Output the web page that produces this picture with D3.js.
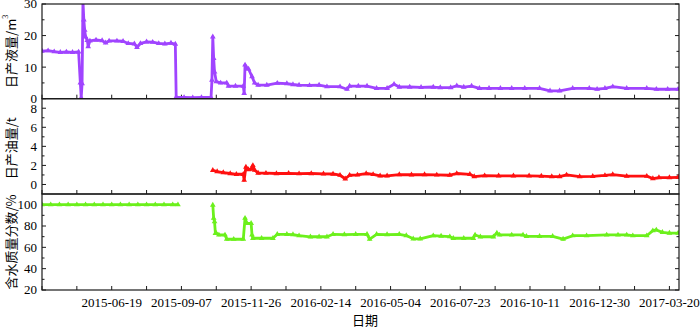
<!DOCTYPE html>
<html>
<head>
<meta charset="utf-8">
<script src="https://cdn.jsdelivr.net/npm/d3@7"></script>
<style>
	body { margin: 0; background: #fff; }
	.axis-text { font-family: "Liberation Serif", "Times New Roman", serif; font-size: 13px; fill: #000; }
	.cjk { font-family: "Noto Sans CJK SC", sans-serif; font-size: 13px; fill: #000; }
	.frame { fill: none; stroke: #1a1a1a; stroke-width: 1.2; }
	.tick { stroke: #1a1a1a; stroke-width: 1; }
</style>
</head>
<body>
<div id="graphic"></div>
<script>
// Globals
var WIDTH = 700;
var HEIGHT = 327;

// Dates on x ticks (every 40 days, labelled every 80)
var X_START = '2015-03-31';
var X_END = '2017-03-31';
var X_TICK_LABELS = ['2015-06-19', '2015-09-07', '2015-11-26', '2016-02-14', '2016-05-04',
	'2016-07-23', '2016-10-11', '2016-12-30', '2017-03-20'];

// Daily liquid production, m3
var LIQUID = [
	['2015-03-31', 15.1], ['2015-04-07', 15.2], ['2015-04-14', 14.9], ['2015-04-21', 14.7],
	['2015-04-28', 14.8], ['2015-05-05', 14.7], ['2015-05-12', 14.8], ['2015-05-14', 5.0],
	['2015-05-15', 0.3], ['2015-05-16', 4.8], ['2015-05-17', 31], ['2015-05-18', 25.0],
	['2015-05-19', 21.7], ['2015-05-20', 19.6], ['2015-05-22', 18.5], ['2015-05-23', 16.5],
	['2015-05-25', 18.3], ['2015-06-01', 18.6], ['2015-06-08', 18.4], ['2015-06-12', 17.7],
	['2015-06-16', 18.3], ['2015-06-25', 18.3], ['2015-07-02', 18.2], ['2015-07-08', 17.5],
	['2015-07-15', 17.4], ['2015-07-18', 16.3], ['2015-07-22', 17.5], ['2015-07-29', 18.0],
	['2015-08-05', 17.9], ['2015-08-12', 17.5], ['2015-08-19', 17.4], ['2015-08-26', 17.6],
	['2015-08-31', 17.3], ['2015-09-01', 0.5], ['2015-09-10', 0.4], ['2015-09-20', 0.3],
	['2015-09-30', 0.4], ['2015-10-11', 0.4], ['2015-10-12', 5.9], ['2015-10-13', 19.6],
	['2015-10-14', 12.8], ['2015-10-15', 8.5], ['2015-10-17', 5.4], ['2015-10-22', 5.0],
	['2015-10-29', 5.0], ['2015-10-31', 4.0], ['2015-11-08', 4.0], ['2015-11-17', 4.0],
	['2015-11-18', 1.7], ['2015-11-19', 10.7], ['2015-11-21', 9.6], ['2015-11-23', 9.4],
	['2015-11-27', 7.0], ['2015-11-30', 5.0], ['2015-12-04', 4.3], ['2015-12-14', 4.3],
	['2015-12-26', 4.9], ['2016-01-06', 4.8], ['2016-01-13', 4.5], ['2016-01-20', 4.3],
	['2016-02-01', 4.2], ['2016-02-12', 4.3], ['2016-02-21', 3.8], ['2016-03-07', 3.8],
	['2016-03-15', 3.0], ['2016-03-18', 4.0], ['2016-03-28', 4.0], ['2016-04-07', 4.0],
	['2016-04-18', 3.3], ['2016-04-30', 3.3], ['2016-05-08', 4.6], ['2016-05-14', 3.7],
	['2016-05-26', 3.7], ['2016-06-08', 3.6], ['2016-06-22', 3.7], ['2016-06-30', 3.5],
	['2016-07-12', 3.5], ['2016-07-19', 4.1], ['2016-07-27', 3.7], ['2016-08-05', 4.0],
	['2016-08-14', 3.3], ['2016-08-25', 3.3], ['2016-09-07', 3.3], ['2016-09-20', 3.3],
	['2016-10-05', 3.3], ['2016-10-22', 3.3], ['2016-11-03', 2.5], ['2016-11-14', 2.5],
	['2016-11-29', 3.3], ['2016-12-18', 3.3], ['2016-12-27', 3.0], ['2017-01-05', 3.3],
	['2017-01-14', 3.8], ['2017-01-30', 3.3], ['2017-02-22', 3.3], ['2017-03-05', 3.0],
	['2017-03-18', 3.0], ['2017-03-30', 3.0]
];

// Daily oil production, t
var OIL = [
	['2015-10-13', 1.49], ['2015-10-18', 1.35], ['2015-10-25', 1.25], ['2015-11-02', 1.15],
	['2015-11-09', 1.07], ['2015-11-17', 1.07], ['2015-11-18', 0.45], ['2015-11-20', 1.83],
	['2015-11-23', 1.56], ['2015-11-26', 1.6], ['2015-11-28', 2.0], ['2015-11-30', 1.5],
	['2015-12-04', 1.2], ['2015-12-13', 1.18], ['2015-12-25', 1.15], ['2016-01-08', 1.17],
	['2016-01-20', 1.13], ['2016-02-03', 1.15], ['2016-02-17', 1.12], ['2016-02-28', 1.1],
	['2016-03-07', 0.97], ['2016-03-13', 0.6], ['2016-03-18', 0.97], ['2016-03-27', 1.0],
	['2016-04-06', 1.15], ['2016-04-14', 1.05], ['2016-04-22', 0.9], ['2016-04-30', 0.9],
	['2016-05-14', 1.04], ['2016-05-28', 1.02], ['2016-06-12', 1.04], ['2016-06-26', 1.0],
	['2016-07-11', 0.97], ['2016-07-19', 1.15], ['2016-08-03', 1.07], ['2016-08-08', 0.83],
	['2016-08-20', 0.92], ['2016-09-05', 0.9], ['2016-09-22', 0.9], ['2016-10-10', 0.9],
	['2016-10-24', 0.88], ['2016-11-05', 0.83], ['2016-11-14', 0.83], ['2016-11-22', 1.0],
	['2016-12-07', 0.83], ['2016-12-22', 0.85], ['2017-01-05', 0.95], ['2017-01-14', 1.04],
	['2017-01-30', 0.87], ['2017-02-22', 0.87], ['2017-03-01', 0.62], ['2017-03-08', 0.72],
	['2017-03-20', 0.72], ['2017-03-30', 0.75]
];

// Water cut, %  (null = no record)
var WATER = [
	['2015-03-31', 100], ['2015-04-10', 100], ['2015-04-20', 100], ['2015-04-30', 100],
	['2015-05-10', 100], ['2015-05-20', 100], ['2015-05-30', 100], ['2015-06-09', 100],
	['2015-06-19', 100], ['2015-06-29', 100], ['2015-07-09', 100], ['2015-07-19', 100],
	['2015-07-29', 100], ['2015-08-08', 100], ['2015-08-18', 100], ['2015-08-28', 100],
	['2015-09-03', 100], ['2015-09-04', null],
	['2015-10-13', 99.7], ['2015-10-14', 87.3], ['2015-10-15', 84], ['2015-10-16', 73.2],
	['2015-10-17', 73.2], ['2015-10-20', 71.6], ['2015-10-27', 71.6], ['2015-10-29', 67.6],
	['2015-11-06', 67.6], ['2015-11-17', 67.6], ['2015-11-19', 87.3], ['2015-11-21', 82.5],
	['2015-11-26', 82.5], ['2015-11-27', 71.6], ['2015-11-28', 68.5], ['2015-12-08', 68.5],
	['2015-12-21', 68.5], ['2015-12-26', 72.2], ['2016-01-06', 72.2], ['2016-01-13', 72.0],
	['2016-01-20', 70.9], ['2016-02-02', 69.9], ['2016-02-12', 69.9], ['2016-02-21', 69.9],
	['2016-02-28', 72.2], ['2016-03-12', 72.0], ['2016-03-25', 72.2], ['2016-04-07', 72.2],
	['2016-04-10', 67.6], ['2016-04-18', 72.2], ['2016-04-30', 72.0], ['2016-05-14', 72.2],
	['2016-05-22', 71.0], ['2016-05-30', 68.0], ['2016-06-07', 68.0], ['2016-06-22', 70.9],
	['2016-07-01', 70.5], ['2016-07-11', 70.0], ['2016-07-15', 68.5], ['2016-07-27', 68.5],
	['2016-08-07', 68.5], ['2016-08-09', 71.6], ['2016-08-15', 69.9], ['2016-08-30', 69.9],
	['2016-09-03', 73.4], ['2016-09-06', 71.6], ['2016-09-20', 71.6], ['2016-10-03', 71.6],
	['2016-10-07', 70.3], ['2016-10-22', 70.3], ['2016-11-06', 70.3], ['2016-11-18', 67.7],
	['2016-11-29', 70.9], ['2016-12-15', 70.9], ['2017-01-07', 71.6], ['2017-01-20', 71.6],
	['2017-01-30', 71.6], ['2017-02-06', 70.9], ['2017-02-22', 70.9], ['2017-03-01', 75.6],
	['2017-03-05', 76.3], ['2017-03-12', 74.0], ['2017-03-20', 73.4], ['2017-03-30', 73.4]
];

// Panels: y ticks and titles
var PANELS = [
	{ id: 'liquid', data: LIQUID, color: '#a044ff', top: 4, bottom: 98.7, domain: [0, 30],
		ticks: [0, 10, 20, 30], minor: [5, 15, 25], title: ['日产液量/m', '3'] },
	{ id: 'oil', data: OIL, color: '#ff1010', top: 98.7, bottom: 194, domain: [-1, 9],
		ticks: [0, 2, 4, 6, 8], minor: [1, 3, 5, 7], title: ['日产油量/t'] },
	{ id: 'water', data: WATER, color: '#6cf01c', top: 194, bottom: 290, domain: [20, 110],
		ticks: [20, 40, 60, 80, 100], minor: [30, 50, 70, 90], title: ['含水质量分数/%'] }
];

var parseDate = d3.timeParse('%Y-%m-%d');

function render() {
	var margins = { left: 42, right: 21 };

	var svg = d3.select('#graphic').append('svg')
		.attr('width', WIDTH)
		.attr('height', HEIGHT);

	var xScale = d3.scaleTime()
		.domain([parseDate(X_START), parseDate(X_END)])
		.range([margins.left, WIDTH - margins.right]);

	// every 40 days from the left edge
	var xTicks = d3.timeDay.every(1).range(parseDate(X_START), parseDate(X_END))
		.filter(function(d, i) { return i % 40 === 0; });

	var defs = svg.append('defs');
	var tri = d3.symbol().type(d3.symbolTriangle).size(14);

	PANELS.forEach(function(p) {
		var yScale = d3.scaleLinear()
			.domain(p.domain)
			.range([p.bottom, p.top]);

		var g = svg.append('g').attr('class', 'panel ' + p.id);

		defs.append('clipPath')
			.attr('id', 'clip-' + p.id)
			.append('rect')
			.attr('x', xScale.range()[0])
			.attr('y', p.top)
			.attr('width', xScale.range()[1] - xScale.range()[0])
			.attr('height', p.bottom - p.top);

		// x ticks pointing in
		g.selectAll('.xtick')
			.data(xTicks)
			.enter().append('line')
			.attr('class', 'tick')
			.attr('x1', function(d) { return xScale(d); })
			.attr('x2', function(d) { return xScale(d); })
			.attr('y1', p.bottom)
			.attr('y2', p.bottom - 4);

		// y ticks on both sides
		var yt = p.ticks.map(function(v) { return { v: v, len: 4 }; })
			.concat(p.minor.map(function(v) { return { v: v, len: 2.5 }; }));
		[xScale.range()[0], xScale.range()[1]].forEach(function(x0, side) {
			g.selectAll('.ytick' + side)
				.data(yt)
				.enter().append('line')
				.attr('class', 'tick')
				.attr('x1', x0)
				.attr('x2', function(d) { return side ? x0 - d.len : x0 + d.len; })
				.attr('y1', function(d) { return yScale(d.v); })
				.attr('y2', function(d) { return yScale(d.v); });
		});

		g.selectAll('.ylabel')
			.data(p.ticks)
			.enter().append('text')
			.attr('class', 'axis-text')
			.attr('x', xScale.range()[0] - 5)
			.attr('y', function(d) { return yScale(d); })
			.attr('dy', '0.34em')
			.attr('text-anchor', 'end')
			.text(function(d) { return d; });

		// series
		var line = d3.line()
			.defined(function(d) { return d[1] !== null; })
			.x(function(d) { return xScale(parseDate(d[0])); })
			.y(function(d) { return yScale(d[1]); });

		var plot = g.append('g').attr('clip-path', 'url(#clip-' + p.id + ')');

		plot.append('path')
			.datum(p.data)
			.attr('fill', 'none')
			.attr('stroke', p.color)
			.attr('stroke-width', 2.8)
			.attr('stroke-linejoin', 'round')
			.attr('d', line);

		plot.selectAll('.marker')
			.data(p.data.filter(function(d) { return d[1] !== null; }))
			.enter().append('path')
			.attr('fill', p.color)
			.attr('transform', function(d) {
				return 'translate(' + xScale(parseDate(d[0])) + ',' + yScale(d[1]) + ')';
			})
			.attr('d', tri);

		g.append('rect')
			.attr('class', 'frame')
			.attr('x', xScale.range()[0])
			.attr('y', p.top)
			.attr('width', xScale.range()[1] - xScale.range()[0])
			.attr('height', p.bottom - p.top);

		// rotated title
		var cy = (p.top + p.bottom) / 2 + (p.id === 'oil' ? 2 : 0);
		var title = svg.append('text')
			.attr('class', 'cjk')
			.attr('transform', 'translate(9.5,' + cy + ') rotate(-90)')
			.attr('text-anchor', 'middle')
			.attr('dominant-baseline', 'central');
		title.append('tspan').text(p.title[0]);
		if (p.title[1]) {
			title.append('tspan')
				.attr('class', 'axis-text')
				.style('font-size', '8px')
				.attr('dy', '-0.55em')
				.text(p.title[1]);
		}
	});

	// x tick labels
	svg.append('g').selectAll('text')
		.data(X_TICK_LABELS)
		.enter().append('text')
		.attr('class', 'axis-text')
		.attr('x', function(d) { return xScale(parseDate(d)); })
		.attr('y', 306.5)
		.attr('text-anchor', 'middle')
		.text(function(d) { return d; });

	svg.append('text')
		.attr('class', 'cjk')
		.attr('x', 365)
		.attr('y', 324.5)
		.attr('text-anchor', 'middle')
		.text('日期');
}

document.addEventListener('DOMContentLoaded', function() {
	render();
});
</script>
</body>
</html>
